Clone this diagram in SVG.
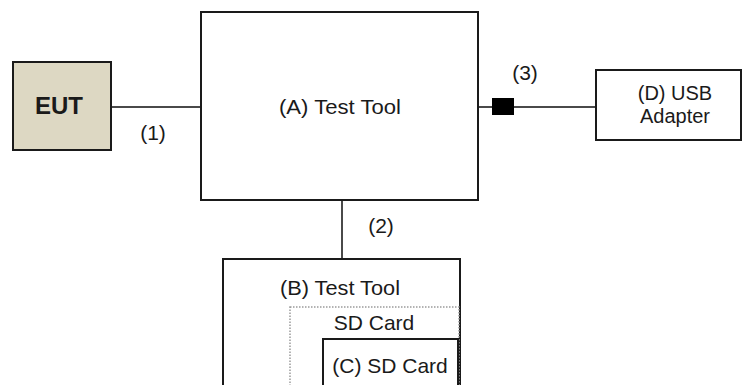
<svg xmlns="http://www.w3.org/2000/svg" width="745" height="385" viewBox="0 0 745 385">
  <style>
    .box { fill: #ffffff; stroke: #1a1a1a; stroke-width: 2; }
    .eut { fill: #ddd8c3; stroke: #1a1a1a; stroke-width: 2; }
    .dotted { fill: none; stroke: #9a9a9a; stroke-width: 1.5; stroke-dasharray: 1.5 1.5; }
    .wire { stroke: #4a4a4a; stroke-width: 2; fill: none; }
    .lbl { font-family: "Liberation Sans", Arial, sans-serif; font-size: 21px; fill: #1a1a1a; text-anchor: middle; }
    .bold { font-weight: bold; font-size: 24px; }
    .small { font-size: 20px; }
  </style>
  <rect width="745" height="385" fill="#ffffff"/>

  <g id="connectors">
    <line class="wire" x1="111" y1="107" x2="202" y2="107"/>
    <text class="lbl" x="153" y="140">(1)</text>
    <line class="wire" x1="342" y1="200" x2="342" y2="259"/>
    <text class="lbl" x="381" y="233">(2)</text>
    <line class="wire" x1="478" y1="107" x2="596" y2="107"/>
    <rect x="492" y="98" width="22" height="17" fill="#000000"/>
    <text class="lbl" x="525" y="80">(3)</text>
  </g>

  <g id="eut">
    <rect class="eut" x="13" y="62" width="98" height="88"/>
    <text class="lbl bold" x="59" y="114">EUT</text>
  </g>

  <g id="test-tool-a">
    <rect class="box" x="201" y="12" width="277" height="188"/>
    <text class="lbl" x="340" y="114" textLength="122" lengthAdjust="spacingAndGlyphs">(A) Test Tool</text>
  </g>

  <g id="usb-adapter-d">
    <rect class="box" x="596" y="70" width="145" height="70"/>
    <text class="lbl small" x="675" y="100">(D) USB</text>
    <text class="lbl small" x="675" y="123">Adapter</text>
  </g>

  <g id="test-tool-b">
    <rect class="box" x="223" y="259" width="237" height="140"/>
    <text class="lbl" x="340" y="295" textLength="120" lengthAdjust="spacingAndGlyphs">(B) Test Tool</text>
  </g>

  <g id="sd-card-slot">
    <rect class="dotted" x="290" y="307" width="169" height="100"/>
    <text class="lbl" x="374" y="330">SD Card</text>
  </g>

  <g id="sd-card-c">
    <rect class="box" x="323" y="339" width="135" height="60"/>
    <text class="lbl" x="390" y="373">(C) SD Card</text>
  </g>
</svg>
